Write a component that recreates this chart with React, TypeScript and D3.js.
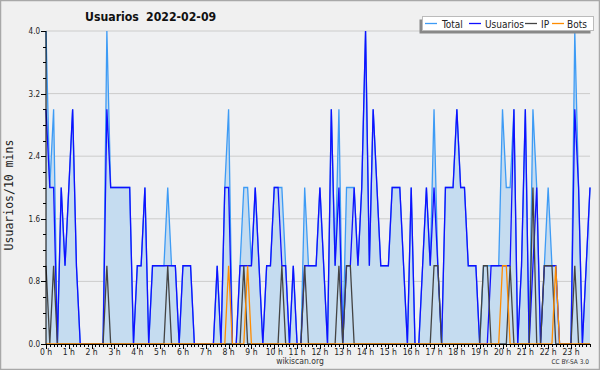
import React from 'react';
import * as d3 from 'd3';

// 10-minute slots, 144 per day
const usuarios = [
  3,2,2,0,2,1, 2,3,1,0,0,0, 0,0,0,0,3,2, 2,2,2,2,2,0,
  1,1,2,0,1,1, 1,1,1,1,1,0, 1,1,1,0,0,0, 0,0,0,1,0,2,
  2,0,0,1,1,1, 1,2,1,0,1,1, 2,2,1,1,0,1, 0,0,1,1,1,1,
  2,1,0,3,1,2, 0,1,1,2,1,2, 4,1,3,2,1,1, 1,2,2,2,1,0,
  2,0,0,1,2,1, 2,1,0,2,2,2, 3,2,2,1,1,1, 0,0,0,1,1,1,
  1,1,1,3,0,1, 3,0,1,2,0,1, 1,1,1,0,0,0, 0,3,2,0,1,2,
];
const total = [
  4,2,3,0,2,1, 2,3,1,0,0,0, 0,0,0,0,4,2, 2,2,2,2,2,0,
  1,1,2,0,1,1, 1,1,2,1,1,0, 1,1,1,0,0,0, 0,0,0,1,0,2,
  3,0,0,1,2,2, 1,2,1,0,1,1, 2,2,2,1,0,1, 0,0,2,1,1,1,
  2,1,0,3,1,3, 0,2,2,2,1,2, 4,1,3,2,1,1, 1,2,2,2,1,0,
  2,0,0,1,2,1, 3,1,0,2,2,2, 3,2,2,1,1,1, 0,1,1,1,1,1,
  3,2,2,3,0,1, 3,0,3,2,0,1, 2,1,1,0,0,0, 0,4,2,0,1,2,
];
const ip = [
  1,0,1,0,0,0, 0,0,0,0,0,0, 0,0,0,0,1,0, 0,0,0,0,0,0,
  0,0,0,0,0,0, 0,0,1,0,0,0, 0,0,0,0,0,0, 0,0,0,0,0,0,
  0,0,0,0,1,0, 0,0,0,0,0,0, 0,0,1,0,0,0, 0,0,1,0,0,0,
  0,0,0,0,0,1, 0,1,1,0,0,0, 0,0,0,0,0,0, 0,0,0,0,0,0,
  0,0,0,0,0,0, 1,1,0,0,0,0, 0,0,0,0,0,0, 0,1,1,0,0,0,
  0,0,1,0,0,0, 0,0,2,0,0,1, 1,1,0,0,0,0, 0,1,0,0,0,0,
];
const bots = [
  0,0,0,0,0,0, 0,0,0,0,0,0, 0,0,0,0,0,0, 0,0,0,0,0,0,
  0,0,0,0,0,0, 0,0,0,0,0,0, 0,0,0,0,0,0, 0,0,0,0,0,0,
  1,0,0,0,0,1, 0,0,0,0,0,0, 0,0,0,0,0,0, 0,0,0,0,0,0,
  0,0,0,0,0,0, 0,0,0,0,0,0, 0,0,0,0,0,0, 0,0,0,0,0,0,
  0,0,0,0,0,0, 0,0,0,0,0,0, 0,0,0,0,0,0, 0,0,0,0,0,0,
  1,1,0,0,0,0, 0,0,0,0,0,0, 0,0,1,0,0,0, 0,0,0,0,0,0,
];
const hourLabels = [
  '0 h','1 h','2 h','3 h','4 h','5 h','6 h','7 h','8 h','9 h','10 h','11 h',
  '12 h','13 h','14 h','15 h','16 h','17 h','18 h','19 h','20 h','21 h','22 h','23 h',
];
const yTickValues = [0, 0.8, 1.6, 2.4, 3.2, 4.0];
const seriesNames = ['Total', 'Usuarios', 'IP', 'Bots'];
const seriesColors = ['#3d9bf5', '#1010ff', '#444444', '#ff8c00'];

const FONT = '"DejaVu Sans Condensed", "DejaVu Sans", sans-serif';

export default function App() {
  const W = 600, H = 370;
  const x = d3.scaleLinear().domain([0, 143]).range([46, 590]);
  const y = d3.scaleLinear().domain([0, 4]).range([344, 31]);
  const line = d3.line<number>().x((_, i) => x(i)).y(d => y(d));
  const area = d3.area<number>().x((_, i) => x(i)).y0(y(0)).y1(d => y(d));
  const series = [total, usuarios, ip, bots];
  const minorY = d3.range(0, 4.0001, 0.2);
  const slots = d3.range(0, 144);

  const legendX = [425, 469, 525, 552];
  const legendTextX = [442, 485, 541, 567];

  return (
    <svg width={W} height={H} style={{ position: 'absolute', left: 0, top: 0, fontFamily: FONT, fontStretch: 'condensed' }}>
      <rect x={0} y={0} width={W} height={H} fill="#f0f0f0" />
      <rect x={0.5} y={0.5} width={W - 1} height={H - 1} fill="none" stroke="#a8a8a8" strokeWidth={1.5} />
      {/* plot background */}
      <rect x={x(0)} y={y(4)} width={x(143) - x(0)} height={y(0) - y(4)} fill="#eff0f2" />
      {/* grid */}
      {yTickValues.slice(1).map(v => (
        <line key={v} x1={x(0)} x2={x(143)} y1={y(v)} y2={y(v)} stroke="#cccccc" strokeWidth={1} />
      ))}
      {/* area + lines */}
      <path d={area(total) || ''} fill="#c5dcf0" />
      {series.map((s, i) => (
        <path key={i} d={line(s) || ''} fill="none" stroke={seriesColors[i]} strokeWidth={1.3} strokeLinejoin="miter" />
      ))}
      {/* axes */}
      <line x1={x(0)} x2={x(0)} y1={y(4)} y2={y(0)} stroke="#000" strokeWidth={1} />
      <line x1={x(0)} x2={x(143)} y1={y(0) + 0.5} y2={y(0) + 0.5} stroke="#000" strokeWidth={1} />
      {minorY.map((v, i) => (
        <line key={'my' + i} x1={x(0) - (i % 4 === 0 ? 5 : 3)} x2={x(0)} y1={Math.round(y(v)) + 0.5} y2={Math.round(y(v)) + 0.5} stroke="#000" strokeWidth={1} />
      ))}
      {yTickValues.map(v => (
        <text key={'yt' + v} x={x(0) - 6} y={y(v) + 3} fontSize={8} textAnchor="end" fill="#222">{v.toFixed(1)}</text>
      ))}
      {slots.map(i => (
        <line key={'xt' + i} x1={Math.round(x(i)) + 0.5} x2={Math.round(x(i)) + 0.5} y1={y(0)} y2={y(0) + (i % 6 === 0 ? 5 : 3)} stroke="#000" strokeWidth={1} />
      ))}
      {hourLabels.map((l, h) => (
        <text key={l} x={x(h * 6)} y={355} fontSize={8.5} textAnchor="middle" fill="#222">{l}</text>
      ))}
      {/* titles */}
      <text x={85} y={21} fontSize={12.2} fontWeight="bold" fill="#111">Usuarios</text>
      <text x={146} y={21} fontSize={12.2} fontWeight="bold" fill="#111">2022-02-09</text>
      <text transform="translate(13,195) rotate(-90)" textAnchor="middle" fontSize={11.5} fontFamily='"DejaVu Sans Mono", monospace' fill="#222" style={{ fontStretch: 'normal' }}>Usuarios/10 mins</text>
      <text x={300} y={364} textAnchor="middle" fontSize={8.5} fill="#333">wikiscan.org</text>
      <text x={589} y={364} textAnchor="end" fontSize={6.5} fill="#333">CC BY-SA 3.0</text>
      {/* legend */}
      <rect x={419.5} y={19.5} width={171} height={14} fill="#888" />
      <rect x={422.5} y={16.5} width={171} height={14} fill="#fff" stroke="#bbb" strokeWidth={1} />
      {seriesNames.map((n, i) => (
        <g key={n}>
          <line x1={legendX[i]} x2={legendX[i] + 12} y1={23.5} y2={23.5} stroke={seriesColors[i]} strokeWidth={1.3} />
          <text x={legendTextX[i]} y={27.5} fontSize={10} fill="#222">{n}</text>
        </g>
      ))}
    </svg>
  );
}
